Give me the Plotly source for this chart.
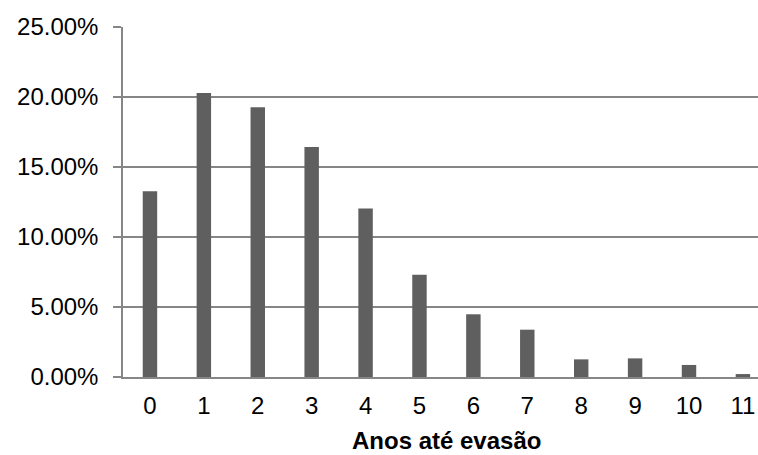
import plotly.graph_objects as go

categories = ["0", "1", "2", "3", "4", "5", "6", "7", "8", "9", "10", "11"]
values = [13.26, 20.29, 19.26, 16.43, 12.03, 7.31, 4.48, 3.38, 1.26, 1.33, 0.86, 0.21]
y_ticks = [0, 5, 10, 15, 20, 25]
y_tick_labels = ["0.00%", "5.00%", "10.00%", "15.00%", "20.00%", "25.00%"]
x_title = "Anos até evasão"

grid_color = "#868686"
font_family = "Liberation Sans, Arial, sans-serif"

fig = go.Figure(
    go.Bar(
        x=list(range(len(categories))),
        y=values,
        marker=dict(color="#5f5f5f", line=dict(width=0)),
        width=0.268,
    )
)

fig.update_layout(
    width=758,
    height=455,
    margin=dict(l=123, r=0, t=27, b=78, autoexpand=False),
    paper_bgcolor="white",
    plot_bgcolor="white",
    showlegend=False,
    font=dict(family=font_family, size=24, color="black"),
    annotations=[
        dict(
            text="<b>" + x_title + "</b>",
            xref="paper", yref="paper",
            x=0.509, y=-0.181,
            xanchor="center", yanchor="middle",
            showarrow=False,
            font=dict(size=24, family=font_family, color="black"),
        )
    ],
)

fig.update_xaxes(
    range=[-0.5, 11.28],
    tickmode="array",
    tickvals=list(range(len(categories))),
    ticktext=categories,
    ticks="",
    showgrid=False,
    showline=True,
    linecolor=grid_color,
    linewidth=1.5,
    ticklabelstandoff=6,
    tickfont=dict(size=24),
    zeroline=False,
    automargin=False,
)

fig.update_yaxes(
    range=[0, 25],
    tickmode="array",
    tickvals=y_ticks,
    ticktext=y_tick_labels,
    ticks="outside",
    ticklen=8,
    tickcolor=grid_color,
    tickwidth=1.5,
    showgrid=True,
    gridcolor=grid_color,
    gridwidth=1.5,
    showline=True,
    linecolor=grid_color,
    linewidth=1.5,
    ticklabelstandoff=10,
    tickfont=dict(size=24),
    zeroline=False,
    automargin=False,
)

post = (
    "document.documentElement.style.margin='0';"
    "document.documentElement.style.overflow='hidden';"
    "document.body.style.margin='0';"
    "document.body.style.overflow='hidden';"
)

fig.write_html("out.html", post_script=post, config={"displayModeBar": False})
